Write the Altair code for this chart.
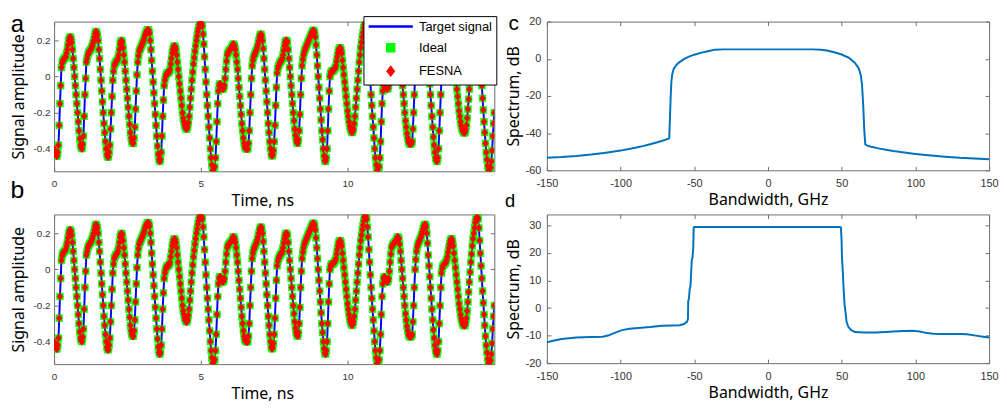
import altair as alt
import pandas as pd

# ---------------- data ----------------
time_step_ns = 0.025
# target signal, one row per nanosecond (Ideal and FESNA samples coincide with it in the figure)
signal_target = [
    -0.40, -0.415, -0.43, -0.44, -0.44, -0.42, -0.38, -0.27, -0.15, -0.05, 0.05, 0.075, 0.09, 0.095, 0.10, 0.105, 0.11, 0.13, 0.15, 0.175,
    0.20, 0.215, 0.22, 0.21, 0.19, 0.15, 0.10, 0.05, 0.00, -0.05, -0.10, -0.15, -0.20, -0.25, -0.30, -0.345, -0.38, -0.395, -0.40, -0.375,
    -0.33, -0.22, -0.10, -0.01, 0.08, 0.10, 0.12, 0.13, 0.14, 0.145, 0.15, 0.16, 0.17, 0.185, 0.20, 0.22, 0.24, 0.25, 0.245, 0.23,
    0.20, 0.15, 0.10, 0.04, -0.02, -0.08, -0.14, -0.20, -0.26, -0.31, -0.36, -0.40, -0.43, -0.445, -0.445, -0.42, -0.38, -0.29, -0.20, -0.11,
    -0.02, 0.03, 0.06, 0.07, 0.08, 0.085, 0.09, 0.10, 0.12, 0.15, 0.18, 0.195, 0.20, 0.19, 0.16, 0.12, 0.08, 0.03, -0.02, -0.07,
    -0.12, -0.17, -0.22, -0.265, -0.31, -0.34, -0.36, -0.37, -0.37, -0.34, -0.28, -0.18, -0.08, 0.01, 0.08, 0.115, 0.14, 0.15, 0.16, 0.17,
    0.18, 0.19, 0.20, 0.215, 0.23, 0.24, 0.25, 0.258, 0.26, 0.255, 0.24, 0.20, 0.15, 0.09, 0.03, -0.03, -0.09, -0.15, -0.21, -0.27,
    -0.33, -0.385, -0.43, -0.46, -0.47, -0.46, -0.42, -0.33, -0.22, -0.13, -0.05, -0.02, 0.00, 0.012, 0.02, 0.022, 0.02, 0.028, 0.04, 0.07,
    0.10, 0.13, 0.15, 0.165, 0.17, 0.165, 0.15, 0.12, 0.08, 0.04, 0.00, -0.04, -0.08, -0.12, -0.16, -0.20, -0.23, -0.25, -0.27, -0.283,
    -0.29, -0.29, -0.28, -0.255, -0.22, -0.17, -0.12, -0.07, -0.02, 0.025, 0.07, 0.105, 0.14, 0.17, 0.20, 0.225, 0.25, 0.27, 0.29, 0.298,
    0.30, 0.295, 0.28, 0.235, 0.18, 0.11, 0.04, -0.03, -0.10, -0.16, -0.22, -0.28, -0.34, -0.40, -0.45, -0.49, -0.52, -0.53, -0.53, -0.50,
    -0.45, -0.36, -0.25, -0.15, -0.08, -0.05, -0.04, -0.045, -0.05, -0.06, -0.07, -0.065, -0.05, -0.01, 0.04, 0.085, 0.12, 0.132, 0.14, 0.145,
    0.15, 0.155, 0.16, 0.17, 0.18, 0.178, 0.17, 0.15, 0.12, 0.08, 0.04, -0.01, -0.06, -0.11, -0.16, -0.21, -0.26, -0.30, -0.34, -0.37,
    -0.39, -0.398, -0.40, -0.402, -0.40, -0.37, -0.30, -0.20, -0.10, -0.01, 0.06, 0.09, 0.11, 0.12, 0.13, 0.14, 0.15, 0.165, 0.18, 0.20,
    0.22, 0.232, 0.235, 0.225, 0.20, 0.155, 0.10, 0.04, -0.02, -0.08, -0.14, -0.20, -0.26, -0.31, -0.36, -0.40, -0.43, -0.44, -0.435, -0.41,
    -0.36, -0.27, -0.16, -0.06, 0.02, 0.045, 0.06, 0.07, 0.08, 0.085, 0.09, 0.10, 0.12, 0.145, 0.17, 0.19, 0.20, 0.20, 0.19, 0.15,
    0.10, 0.05, 0.00, -0.05, -0.10, -0.15, -0.20, -0.245, -0.29, -0.325, -0.35, -0.365, -0.37, -0.35, -0.30, -0.21, -0.10, -0.01, 0.06, 0.095,
    0.12, 0.137, 0.15, 0.16, 0.17, 0.18, 0.19, 0.20, 0.21, 0.22, 0.23, 0.24, 0.25, 0.256, 0.255, 0.245, 0.22, 0.175, 0.12, 0.06,
    0.00, -0.06, -0.12, -0.18, -0.24, -0.30, -0.35, -0.40, -0.44, -0.465, -0.47, -0.45, -0.40, -0.30, -0.18, -0.08, 0.00, 0.02, 0.03, 0.03,
    0.03, 0.035, 0.04, 0.048, 0.06, 0.085, 0.11, 0.132, 0.15, 0.158, 0.16, 0.15, 0.13, 0.09, 0.05, 0.01, -0.03, -0.07, -0.11, -0.15,
    -0.19, -0.22, -0.25, -0.275, -0.29, -0.303, -0.31, -0.305, -0.29, -0.26, -0.22, -0.17, -0.12, -0.07, -0.02, 0.03, 0.08, 0.12, 0.16, 0.19,
    0.22, 0.245, 0.27, 0.29, 0.30, 0.297, 0.28, 0.235, 0.18, 0.11, 0.04, -0.03, -0.10, -0.16, -0.22, -0.28, -0.34, -0.40, -0.45, -0.49,
    -0.52, -0.53, -0.53, -0.50, -0.45, -0.36, -0.25, -0.15, -0.08, -0.05, -0.04, -0.045, -0.05, -0.06, -0.07, -0.065, -0.05, -0.01, 0.04, 0.085,
    0.12, 0.132, 0.14, 0.145, 0.15, 0.155, 0.16, 0.17, 0.18, 0.178, 0.17, 0.14, 0.10, 0.05, 0.00, -0.05, -0.10, -0.15, -0.20, -0.245,
    -0.28, -0.315, -0.34, -0.36, -0.37, -0.375, -0.37, -0.372, -0.36, -0.29, -0.20, -0.10, 0.00, 0.055, 0.10, 0.125, 0.14, 0.15, 0.16, 0.17,
    0.18, 0.195, 0.21, 0.225, 0.24, 0.248, 0.25, 0.235, 0.20, 0.145, 0.08, 0.02, -0.04, -0.10, -0.16, -0.22, -0.28, -0.335, -0.38, -0.42,
    -0.45, -0.465, -0.47, -0.45, -0.40, -0.30, -0.20, -0.10, -0.02, 0.005, 0.02, 0.025, 0.03, 0.035, 0.04, 0.052, 0.07, 0.095, 0.12, 0.142,
    0.16, 0.168, 0.17, 0.155, 0.13, 0.09, 0.05, 0.01, -0.03, -0.07, -0.11, -0.15, -0.19, -0.22, -0.25, -0.272, -0.29, -0.302, -0.31, -0.312,
    -0.31, -0.295, -0.27, -0.23, -0.18, -0.125, -0.07, -0.015, 0.04, 0.085, 0.13, 0.17, 0.20, 0.23, 0.26, 0.278, 0.29, 0.29, 0.28, 0.23,
    0.16, 0.09, 0.02, -0.05, -0.12, -0.185, -0.25, -0.31, -0.37, -0.42, -0.46, -0.495, -0.52, -0.53, -0.53, -0.505, -0.47, -0.41, -0.33, -0.26,
    -0.20,
]
signal_ideal = list(signal_target)
signal_fesna = list(signal_target)
series_names = ["Target signal", "Ideal", "FESNA"]
series_colors = ["#0000ff", "#00ff00", "#ff0000"]

# spectrum, panel c
freq_c = [-150, -140, -130, -120, -110, -100, -90, -85, -80, -75, -70, -67, -66.5, -66, -65.5, -65, -64, -62,
          -60, -57, -54, -50, -45, -40, -36, -30, 0, 30, 36, 40, 45, 50, 55, 59, 61.5, 63, 63.8, 64.6, 65.3,
          66, 67, 70, 75, 80, 85, 90, 100, 107, 120, 130, 140, 150]
spec_c = [-53.3, -52.9, -52.3, -51.5, -50.5, -49.4, -47.9, -47.0, -46.0, -44.9, -43.7, -42.8, -32, -20, -12, -8.5, -5.5, -3.2,
          -1.8, -0.2, 1.0, 2.2, 3.3, 4.2, 4.9, 5.05, 5.05, 5.05, 4.9, 4.4, 3.5, 2.3, 0.5, -2.3, -5.0, -9, -14, -25, -38,
          -46, -46.6, -47.3, -48.2, -48.9, -49.6, -50.2, -51.2, -51.8, -52.7, -53.3, -53.7, -54.1]

# spectrum, panel d
freq_d = [-150, -145, -140, -130, -120, -112, -108, -104, -99, -94, -88, -80, -72, -65, -60, -57, -55, -54.3,
          -54.1, -53.6, -53.1, -52.6, -51.7, -51.2, -50.7, -50.4, -49.8, 0, 48.8, 49.5, 49.9, 50.2, 50.7,
          51.2, 51.9, 52.6, 53.3, 54.5, 56.5, 59, 65, 73, 80, 85, 92, 98, 103, 107, 112, 118, 130, 135, 141, 146, 150]
spec_d = [-12.4, -11.8, -11.2, -10.7, -10.5, -10.4, -9.9, -9.0, -8.0, -7.5, -7.2, -6.9, -6.4, -6.3, -6.2, -5.8, -5.0, -4.0,
          2.5, 3.5, 7.0, 7.8, 17.5, 18.3, 22, 29.2, 29.4, 29.4, 29.4, 29.2, 25, 18.3, 14,
          8, 1.5, -1.5, -5.0, -6.8, -8.0, -8.7, -8.9, -8.9, -8.7, -8.5, -8.3, -8.2, -8.5, -9.0, -9.3, -9.4, -9.4, -9.5, -10.0, -10.4, -10.7]

time_ticks = [0, 5, 10]
amp_ticks = [-0.4, -0.2, 0, 0.2]
bw_ticks = [-150, -100, -50, 0, 50, 100, 150]
c_ticks = [-60, -40, -20, 0, 20]
d_ticks = [-20, -10, 0, 10, 20, 30]

# ---------------- styling ----------------
LABEL_FONT = "Liberation Sans"
TITLE_FONT = "Noto Sans"
LABEL_COLOR = "#333333"
FRAME = "#6e6e6e"
SPEC_BLUE = "#0072BD"
LINE_PATH = "M-6.3,0L6.3,0"
DIAMOND_PATH = "M0,-1.1L0.85,0L0,1.1L-0.85,0Z"

t_vals = [round(i * time_step_ns, 3) for i in range(len(signal_target))]
df_line = pd.DataFrame({"t": t_vals, "v": signal_target})
df_pts = pd.concat([
    pd.DataFrame({"t": t_vals, "v": signal_ideal, "series": "Ideal"}),
    pd.DataFrame({"t": t_vals, "v": signal_fesna, "series": "FESNA"}),
], ignore_index=True)
df_c = pd.DataFrame({"f": freq_c, "s": spec_c})
df_d = pd.DataFrame({"f": freq_d, "s": spec_d})


def main_axis(orient, values, title, lab_fs, lab_pad, title_pad, title_x=None):
    kw = dict(orient=orient, values=values, title=title, offset=-4, tickSize=4, tickColor=FRAME,
              tickWidth=1, domain=False, grid=False, labelFont=LABEL_FONT, labelFontSize=lab_fs,
              labelColor=LABEL_COLOR, labelPadding=lab_pad, labelFlush=False, labelOverlap=False,
              labelExpr="toString(datum.value)", titleFont=TITLE_FONT, titleFontSize=16,
              titleFontWeight="normal", titleColor="#000000", titlePadding=title_pad)
    if title_x is not None:
        kw["titleX"] = title_x
    return alt.Axis(**kw)


def tick_axis(orient, values):
    return alt.Axis(orient=orient, values=values, title="", offset=-4, tickSize=4, tickColor=FRAME,
                    tickWidth=1, domain=False, grid=False, labels=False)


def panel_label(letter, dx, dy, fs):
    return alt.Chart(pd.DataFrame({"label": [letter]})).mark_text(
        font=LABEL_FONT, fontSize=fs, align="center", baseline="alphabetic", color="#000000"
    ).encode(text="label:N", x=alt.value(dx), y=alt.value(dy))


def time_panel(letter, lab_dy, lab_fs, height, legend_y):
    xs = alt.Scale(domain=[0, 15], nice=False, zero=False)
    ys = alt.Scale(domain=[-0.525, 0.305], nice=False, zero=False)
    line = alt.Chart(df_line).mark_line(color="#0000ff", strokeWidth=2, clip=True).encode(
        x=alt.X("t:Q", scale=xs, axis=main_axis("bottom", time_ticks, "Time, ns", 10, 7.5, 4, 210)),
        y=alt.Y("v:Q", scale=ys, axis=main_axis("left", amp_ticks, "Signal amplitude", 10, 4, 6.5)),
    )
    leg = alt.Legend(title="", orient="none", legendX=312, legendY=legend_y, fillColor="#ffffff",
                     strokeColor="#000000", padding=4, symbolSize=50, symbolStrokeWidth=2.5,
                     symbolOffset=17, labelOffset=22, labelFont=LABEL_FONT, labelFontSize=13,
                     labelColor="#000000", rowPadding=4.5, cornerRadius=0)
    sdom = alt.Scale(domain=series_names, range=series_colors)
    pts = alt.Chart(df_pts).mark_point(filled=True, size=46, strokeWidth=0.6, opacity=1, clip=True).encode(
        x=alt.X("t:Q", scale=xs, axis=tick_axis("top", time_ticks)),
        y=alt.Y("v:Q", scale=ys, axis=tick_axis("right", amp_ticks)),
        fill=alt.Fill("series:N", scale=sdom, legend=leg),
        stroke=alt.Stroke("series:N", scale=sdom, legend=leg),
        shape=alt.Shape("series:N", scale=alt.Scale(domain=series_names,
                                                    range=[LINE_PATH, "square", DIAMOND_PATH]), legend=leg),
    )
    lab = panel_label(letter, -37, lab_dy, lab_fs)
    return alt.layer(line, pts, lab).resolve_axis(x="independent", y="independent").properties(
        width=444, height=height)


def spec_panel(df, letter, lab_dx, lab_dy, lab_fs, ydom, yticks, height):
    xs = alt.Scale(domain=[-150, 150], nice=False, zero=False)
    ys = alt.Scale(domain=ydom, nice=False, zero=False)
    line = alt.Chart(df).mark_line(color=SPEC_BLUE, strokeWidth=2, clip=True).encode(
        x=alt.X("f:Q", scale=xs, axis=main_axis("bottom", bw_ticks, "Bandwidth, GHz", 11, 7, 3.5)),
        y=alt.Y("s:Q", scale=ys, axis=main_axis("left", yticks, "Spectrum, dB", 11, 6, 3.5)),
    )
    ghost = alt.Chart(df).mark_line(opacity=0).encode(
        x=alt.X("f:Q", scale=xs, axis=tick_axis("top", bw_ticks)),
        y=alt.Y("s:Q", scale=ys, axis=tick_axis("right", yticks)),
    )
    lab = panel_label(letter, lab_dx, lab_dy, lab_fs)
    return alt.layer(line, ghost, lab).resolve_axis(x="independent", y="independent").properties(
        width=446, height=height)


panel_a = time_panel("a", 10.5, 24, 151, -5.5)
panel_b = time_panel("b", -17, 25, 151, -4.5)
panel_c = spec_panel(df_c, "c", -33.5, 8.5, 21, [-60, 20], c_ticks, 150)
panel_d = spec_panel(df_d, "d", -37, -7, 18.5, [-20, 34], d_ticks, 150)

chart = alt.concat(panel_a, panel_c, panel_b, panel_d, columns=2,
                   spacing={"row": 43.5, "column": 53}, bounds="flush", align="each").properties(
    padding={"left": 1.5, "top": 3, "right": 0, "bottom": 0},
    background="#ffffff",
).configure_view(stroke=FRAME, strokeWidth=1)

chart.save("out.html", embed_options={"renderer": "svg", "actions": False})
